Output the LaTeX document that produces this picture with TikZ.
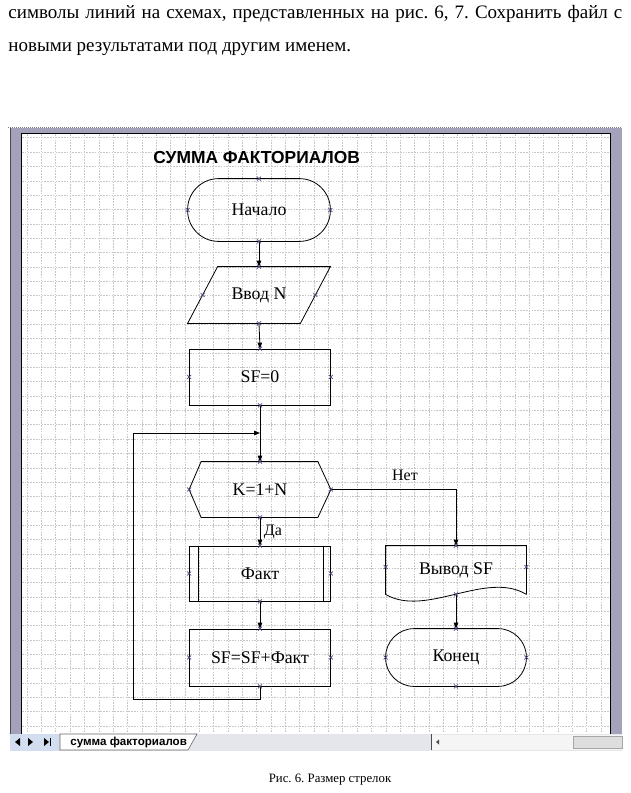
\documentclass[tikz,border=0pt]{standalone}
\usepackage{fontspec}
\setmainfont{Liberation Serif}
\newfontfamily\arialf{Liberation Sans}
\usetikzlibrary{arrows.meta}
\frenchspacing
\definecolor{framec}{HTML}{A3A2BA}
\definecolor{markc}{HTML}{4A4A80}
\definecolor{gridc}{HTML}{C6C6C6}
\definecolor{tabbg}{HTML}{E4E6EC}
\definecolor{tabblue}{HTML}{D2DDF0}
\begin{document}
\begin{tikzpicture}[x=1pt,y=-1pt,line width=0.8pt,
  lbl/.style={font=\fontsize{17.8}{20}\selectfont,inner sep=0pt},
  arr/.style={-{Triangle[length=6pt,width=4.5pt]}},
  gridl/.style={gridc,line width=0.5pt,dash pattern=on 1.6pt off 1.2pt},
  cross/.pic={\draw[markc,line width=0.6pt] (-2,-2)--(2,2) (-2,2)--(2,-2);}]
\useasboundingbox (0,0) rectangle (630,793);
\fill[white] (0,0) rectangle (630,793);
% top text
\node[anchor=base west,inner sep=0pt,font=\fontsize{19}{22}\selectfont] (t1) at (8,18)
  {\makebox[614pt][s]{символы линий на схемах, представленных на рис. 6, 7. Сохранить файл с}};
\node[anchor=base west,inner sep=0pt,font=\fontsize{19}{22}\selectfont] (t2) at (8,51)
  {новыми результатами под другим именем.};
% window frame
\draw[gray,dash pattern=on 1pt off 1pt,line width=0.6pt] (8,127.5) -- (622,127.5);
\fill[framec] (10,128) rectangle (622,735);
\draw[black!70,line width=0.8pt] (10.4,128) -- (10.4,735);
\fill[white] (21,133) rectangle (610,734);
\foreach \i in {0,...,40} \draw[gridl] (27+\i*14.35,134) -- (27+\i*14.35,733);
\foreach \i in {0,...,41} \draw[gridl] (22,137.7+\i*14.35) -- (609,137.7+\i*14.35);
\draw[black,line width=1pt] (21,734) -- (21,133) -- (610,133) -- (610,734);
% tab bar
\fill[tabbg] (10,734) rectangle (622,751);
\fill[tabblue] (10,734) rectangle (60,751);
\fill[black] (15,742) -- (20,738) -- (20,746) -- cycle;
\fill[black] (33,742) -- (28,738) -- (28,746) -- cycle;
\fill[black] (49,742) -- (44,738) -- (44,746) -- cycle;
\draw[black,line width=1pt] (50.5,738) -- (50.5,746);
\draw[black!60,line width=0.6pt,fill=white] (60,734) -- (197,734) -- (188,750) -- (60,750) -- cycle;
\node[anchor=west,inner sep=0pt,font=\arialf\bfseries\fontsize{11.6}{13}\selectfont] (tab) at (70,742) {сумма факториалов};
\fill[white!96!black] (432,735) rectangle (622,750);
\draw[black!70,line width=0.8pt] (431,734) -- (431,750);
\fill[black!70] (436,742) -- (439,739.5) -- (439,744.5) -- cycle;
\draw[black!35,line width=0.6pt,fill=black!13] (573,736) rectangle (622,748);
% caption
\node[anchor=base,inner sep=0pt,font=\fontsize{12.8}{14}\selectfont] (cap) at (330,782) {Рис. 6. Размер стрелок};
% title
\node[anchor=west,inner sep=0pt,font=\arialf\bfseries\fontsize{17.4}{19}\selectfont] (title) at (153,158) {СУММА ФАКТОРИАЛОВ};
% nodes
\node[lbl,minimum width=142pt,minimum height=62pt] (nach) at (259,210) {Начало};
\draw[rounded corners=31pt] (nach.north west) rectangle (nach.south east);
\node[lbl,minimum width=142pt,minimum height=56pt] (vvod) at (259,295) {Ввод N};
\draw ([xshift=30pt]vvod.north west) -- (vvod.north east) -- ([xshift=-30pt]vvod.south east) -- (vvod.south west) -- cycle;
\node[lbl,draw,minimum width=141pt,minimum height=56pt] (sf0) at (260,377) {SF=0};
\node[lbl,minimum width=141pt,minimum height=55pt] (hex) at (260,489.5) {K=1+N};
\draw (hex.west) -- ([xshift=12pt]hex.north west) -- ([xshift=-13pt]hex.north east) -- (hex.east)
  -- ([xshift=-13pt]hex.south east) -- ([xshift=12pt]hex.south west) -- cycle;
\node[lbl,draw,minimum width=141pt,minimum height=55pt] (fakt) at (260,573.5) {Факт};
\draw ([xshift=9pt]fakt.north west) -- ([xshift=9pt]fakt.south west)
      ([xshift=-8pt]fakt.north east) -- ([xshift=-8pt]fakt.south east);
\node[lbl,draw,minimum width=141pt,minimum height=57pt] (sfsf) at (260,657.5) {SF=SF+Факт};
\node[lbl,minimum width=140pt,minimum height=48pt,text depth=3pt] (doc) at (456,570) {Вывод SF};
\draw (doc.south east) -- (doc.north east) -- (doc.north west) -- (doc.south west)
  .. controls (426,618) and (486,570) .. (doc.south east);
\node[lbl,minimum width=140pt,minimum height=57pt] (kon) at (456,657.5) {Конец};
\draw[rounded corners=28.5pt] (kon.north west) rectangle (kon.south east);
% connectors
\draw[arr] (nach.south) -- (vvod.north);
\draw[arr] (vvod.south) -- (sf0.north);
\draw[arr] (sf0.south) -- (hex.north);
\draw[arr] (hex.south) -- (fakt.north);
\draw[arr] (fakt.south) -- (sfsf.north);
\draw[arr] (hex.east) -| (doc.north);
\draw[arr] (doc.south) -- (kon.north);
\coordinate (lp) at (133,433);
\draw[arr] (sfsf.south) -- ++(0,12.5) -| (lp) -- (lp -| sf0.south);
\node[font=\fontsize{16}{18}\selectfont,inner sep=0pt] (net) at (405,475) {Нет};
\node[font=\fontsize{16}{18}\selectfont,inner sep=0pt] (da) at (273,532) {Да};
% markers
\foreach \n in {nach,sf0,hex,fakt,sfsf,kon} {
  \pic at (\n.north) {cross}; \pic at (\n.south) {cross};
  \pic at (\n.east) {cross}; \pic at (\n.west) {cross};
}
\pic at (vvod.north) {cross}; \pic at (vvod.south) {cross};
\pic at ([xshift=15pt]vvod.west) {cross}; \pic at ([xshift=-15pt]vvod.east) {cross};
\pic at (doc.north) {cross}; \pic at (doc.south) {cross};
\pic at ([yshift=3pt]doc.east) {cross}; \pic at ([yshift=3pt]doc.west) {cross};
\end{tikzpicture}
\end{document}
